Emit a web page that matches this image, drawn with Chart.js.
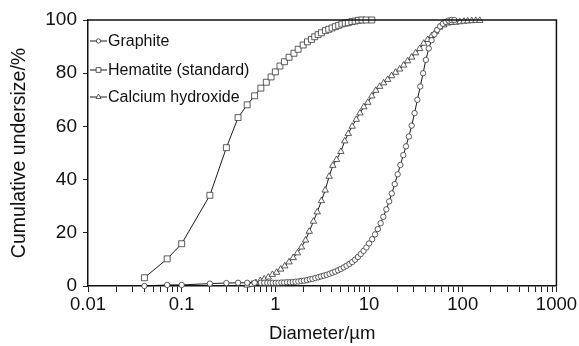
<!DOCTYPE html>
<html><head><meta charset="utf-8">
<script src="https://cdn.jsdelivr.net/npm/chart.js@4.4.1/dist/chart.umd.min.js"></script>
<style>html,body{margin:0;padding:0;background:#fff}#wrap{width:579px;height:346px;position:relative}</style>
</head><body><div id="wrap"><canvas id="c" width="579" height="346"></canvas></div>
<script>
const seriesNames = ['Graphite', 'Hematite (standard)', 'Calcium hydroxide'];

const graphiteX = [0.04, 0.07, 0.1, 0.2, 0.3, 0.4, 0.5, 0.6, 0.7, 0.76, 0.82, 0.88, 0.94, 1.01, 1.08, 1.16, 1.24, 1.33, 1.43, 1.53, 1.64, 1.76, 1.89, 2.02, 2.17, 2.33, 2.49, 2.67, 2.87, 3.07, 3.29, 3.53, 3.79, 4.06, 4.35, 4.67, 5.0, 5.37, 5.75, 6.17, 6.61, 7.09, 7.6, 8.15, 8.74, 9.37, 10.0, 10.8, 11.6, 12.4, 13.3, 14.2, 15.3, 16.4, 17.5, 18.8, 20.2, 21.6, 23.2, 24.8, 26.6, 28.5, 30.6, 32.8, 35.2, 37.7, 40.4, 43.4, 46.5, 49.8, 53.4, 57.3, 61.4, 65.8, 70.6, 75.7, 81.2];
const graphiteY = [0, 0.4, 0.4, 0.9, 1.1, 1.2, 1.2, 1.2, 1.2, 1.2, 1.2, 1.2, 1.2, 1.2, 1.2, 1.3, 1.3, 1.4, 1.4, 1.5, 1.6, 1.7, 1.9, 2.0, 2.2, 2.5, 2.7, 3.0, 3.3, 3.6, 3.9, 4.2, 4.6, 5.0, 5.4, 5.9, 6.4, 7.0, 7.6, 8.3, 9.0, 9.9, 10.9, 12.0, 13.2, 14.5, 16.0, 17.6, 19.4, 21.4, 23.6, 26.0, 28.8, 31.8, 34.8, 38.3, 42.0, 45.5, 49.2, 52.5, 56.2, 60.3, 65.0, 70.0, 75.0, 80.0, 85.0, 89.3, 92.4, 94.6, 96.3, 97.6, 98.6, 99.3, 99.8, 100, 100];

const hematiteX = [0.04, 0.07, 0.1, 0.2, 0.3, 0.4, 0.5, 0.6, 0.7, 0.8, 0.9, 1.0, 1.12, 1.25, 1.40, 1.58, 1.75, 1.98, 2.2, 2.43, 2.63, 2.86, 3.1, 3.42, 3.71, 4.03, 4.37, 4.74, 5.13, 5.57, 6.0, 6.56, 7.1, 7.7, 8.4, 9.3, 10.7];
const hematiteY = [3.1, 10.2, 15.9, 34.1, 52, 63.3, 68.1, 71.5, 74.4, 76.6, 78.6, 80.5, 82.7, 84.3, 86, 87.5, 89, 90.6, 91.8, 92.7, 93.7, 94.5, 95.2, 96, 96.5, 97, 97.5, 98, 98.5, 98.8, 99, 99.4, 99.6, 99.9, 100, 100, 100];

const calciumX = [0.5, 0.56, 0.62, 0.69, 0.76, 0.84, 0.93, 1.03, 1.14, 1.26, 1.40, 1.55, 1.72, 1.9, 2.1, 2.3, 2.55, 2.8, 3.1, 3.4, 3.75, 4.1, 4.5, 5.0, 5.5, 6.0, 6.6, 7.3, 8.0, 8.8, 9.7, 10.7, 11.8, 13, 14.3, 15.8, 17.4, 19.2, 21.2, 23.4, 25.8, 28.5, 31.4, 34.7, 38.3, 42.3, 46.7, 51.5, 56.9, 62.8, 69.3, 76.5, 84.4, 93.2, 103, 113, 125, 138, 152];
const calciumY = [0.3, 0.6, 1.2, 2.0, 2.6, 3.3, 4.3, 5.1, 6.3, 7.5, 9.0, 10.6, 12.4, 14.6, 17.2, 20.5, 24.3, 27.8, 32.0, 36.0, 41.2, 45.3, 47.5, 50.5, 54.5, 57.3, 60.0, 62.6, 65.0, 67.3, 69.0, 71.4, 73.5, 75.0, 76.3, 77.6, 79.0, 80.3, 81.5, 83.0, 84.6, 86.0, 87.6, 89.2, 91.2, 92.6, 94.1, 95.7, 97.3, 98.1, 98.8, 99.0, 99.1, 99.3, 99.5, 99.6, 99.7, 99.8, 99.8];

const xMajorValues = [0.01, 0.1, 1, 10, 100, 1000];
const xTickLabels = ['0.01', '0.1', '1', '10', '100', '1000'];
const xMinorFactors = [2, 3, 4, 5, 6, 7, 8, 9];
const yTickValues = [0, 20, 40, 60, 80, 100];

function pts(xs, ys) { return xs.map((x, i) => ({ x: x, y: ys[i] })); }

const allXTicks = [];
xMajorValues.forEach((m, i) => {
  allXTicks.push(m);
  if (i < xMajorValues.length - 1) xMinorFactors.forEach(f => allXTicks.push(parseFloat((m * f).toPrecision(6))));
});

const FONT = "'Liberation Sans', Arial, Helvetica, sans-serif";
const styles = [
  { pointStyle: 'circle', radius: 2.7 },
  { pointStyle: 'rect', radius: 4.2 },
  { pointStyle: 'triangle', radius: 3.7 }
];
const seriesData = [pts(graphiteX, graphiteY), pts(hematiteX, hematiteY), pts(calciumX, calciumY)];

const datasets = seriesNames.map((name, i) => ({
  label: name,
  data: seriesData[i],
  borderColor: '#000',
  borderWidth: 0.9,
  pointStyle: styles[i].pointStyle,
  pointRadius: styles[i].radius,
  pointBorderWidth: 0.8,
  pointBorderColor: '#333',
  pointBackgroundColor: '#fff',
  tension: 0,
  clip: false,
  fill: false
}));

function drawMarker(ctx, style, x, y, r) {
  ctx.beginPath();
  if (style === 'circle') {
    ctx.arc(x, y, r, 0, Math.PI * 2);
  } else if (style === 'rect') {
    const s = Math.SQRT1_2 * r;
    ctx.rect(x - s, y - s, 2 * s, 2 * s);
  } else {
    ctx.moveTo(x, y - r);
    ctx.lineTo(x + r * Math.sin(Math.PI / 3), y + r * 0.5);
    ctx.lineTo(x - r * Math.sin(Math.PI / 3), y + r * 0.5);
    ctx.closePath();
  }
  ctx.fillStyle = '#fff';
  ctx.fill();
  ctx.lineWidth = 0.8;
  ctx.strokeStyle = '#333';
  ctx.stroke();
}

const framePlugin = {
  id: 'frame',
  afterDraw(chart) {
    const { ctx, chartArea: a } = chart;
    ctx.save();
    ctx.strokeStyle = '#111';
    ctx.lineWidth = 1.5;
    ctx.beginPath();
    ctx.moveTo(a.left, a.top);
    ctx.lineTo(a.right, a.top);
    ctx.lineTo(a.right, a.bottom);
    ctx.stroke();
    const rows = [41, 70, 97];
    chart.data.datasets.forEach((ds, i) => {
      const y = rows[i];
      ctx.strokeStyle = '#000';
      ctx.lineWidth = 0.9;
      ctx.beginPath();
      ctx.moveTo(a.left + 2, y);
      ctx.lineTo(a.left + 19, y);
      ctx.stroke();
      drawMarker(ctx, ds.pointStyle, a.left + 10.5, y, ds.pointRadius * 0.8);
      ctx.fillStyle = '#111';
      ctx.font = '16px ' + FONT;
      ctx.textBaseline = 'middle';
      ctx.textAlign = 'left';
      ctx.fillText(ds.label, a.left + 20, y + 1);
    });
    ctx.restore();
  }
};

new Chart(document.getElementById('c'), {
  type: 'line',
  data: { datasets: datasets },
  options: {
    responsive: false,
    devicePixelRatio: 1,
    animation: false,
    layout: { padding: { top: 20, right: 20, left: 0, bottom: 0 } },
    plugins: { legend: { display: false }, tooltip: { enabled: false } },
    scales: {
      x: {
        type: 'logarithmic',
        min: 0.01,
        max: 1000,
        afterBuildTicks(scale) { scale.ticks = allXTicks.map(v => ({ value: v })); },
        afterFit(scale) { scale.height = 60; },
        ticks: {
          autoSkip: false, maxRotation: 0, minRotation: 0,
          color: '#111', padding: 2,
          font: { family: FONT, size: 18.5 },
          callback(value) {
            const k = xMajorValues.findIndex(m => Math.abs(m - value) / m < 1e-6);
            return k >= 0 ? xTickLabels[k] : '';
          }
        },
        grid: { display: true, drawOnChartArea: false, drawTicks: true, tickLength: 6, color: '#222', lineWidth: 1 },
        border: { display: true, color: '#111', width: 1.5 },
        title: { display: true, text: 'Diameter/\u00b5m', color: '#111', font: { family: FONT, size: 18.5 }, padding: { top: 0, bottom: 1 } }
      },
      y: {
        type: 'linear',
        min: 0,
        max: 100,
        afterBuildTicks(scale) { scale.ticks = yTickValues.map(v => ({ value: v })); },
        afterFit(scale) { scale.width = 88; },
        ticks: { color: '#111', padding: 6, font: { family: FONT, size: 19 } },
        grid: { display: true, drawOnChartArea: false, drawTicks: true, tickLength: 5, color: '#222', lineWidth: 1 },
        border: { display: true, color: '#111', width: 1.5 },
        title: { display: true, text: 'Cumulative undersize/%', color: '#111', font: { family: FONT, size: 19.5 }, padding: { top: 8, bottom: 0 } }
      }
    }
  },
  plugins: [framePlugin]
});
</script>
</body></html>
